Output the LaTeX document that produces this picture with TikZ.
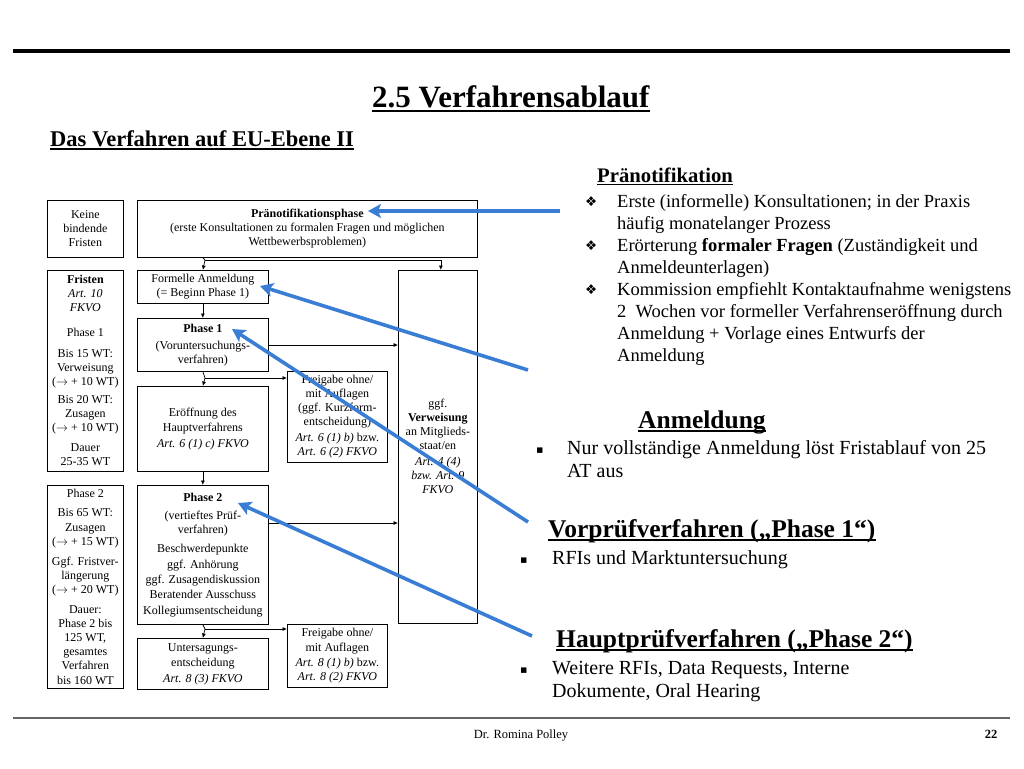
\documentclass[tikz,border=0pt]{standalone}
\usepackage{fontspec}
\setmainfont{Liberation Serif}
\newfontfamily\symfont{DejaVu Sans}
\usetikzlibrary{arrows.meta}
\definecolor{bluearr}{RGB}{58,125,213}
\newcommand{\fsz}{\fontsize{12}{14}\selectfont}
\newcommand{\ar}{$\rightarrow$}
\newcommand{\lines}[1]{\vtop{#1}}
\tikzset{
  fbox/.style={draw, line width=0.7pt, inner sep=1pt, align=center, font=\fsz, anchor=north west},
  farr/.style={line width=0.7pt, -{Latex[length=4.5pt,width=4pt]}},
  fline/.style={line width=0.7pt},
  txt/.style={inner sep=0pt, anchor=base west},
  body/.style={txt, font=\fontsize{18.5}{22}\selectfont},
  bodybig/.style={txt, font=\fontsize{20}{23.5}\selectfont},
  hdsmall/.style={txt, font=\fontsize{20.7}{24}\selectfont\bfseries},
  hdbig/.style={txt, font=\fontsize{25.5}{30}\selectfont\bfseries},
  ul/.style={line width=1.3pt},
  bul/.style={txt, font=\symfont\fontsize{13.5}{13.5}\selectfont},
  sq/.style={txt, font=\symfont\fontsize{11}{11}\selectfont},
  bluea/.style={draw=bluearr, line width=3.6pt, -{Stealth[length=13pt,width=14pt,inset=3pt]}}
}
\begin{document}
\begin{tikzpicture}[x=1pt,y=-1pt]
\useasboundingbox (0,0) rectangle (1024,768);
% header and footer rules
\coordinate (tl) at (13,51); \coordinate (tr) at (1010,51);
\draw[line width=4.5pt] (tl) -- (tr);
\coordinate (bl) at (13,718); \coordinate (br) at (1010,718);
\draw[line width=1.2pt, black!60] (bl) -- (br);

% titles
\node[txt, font=\fontsize{31}{36}\selectfont\bfseries] (title) at (372,107) {2.5 Verfahrensablauf};
\draw[line width=2.6pt] ([yshift=-4pt]title.base west) -- ([yshift=-4pt]title.base east);
\node[txt, font=\fontsize{22.5}{26}\selectfont\bfseries] (sub) at (50,146) {Das Verfahren auf EU-Ebene II};
\draw[line width=1.6pt] ([yshift=-3pt]sub.base west) -- ([yshift=-3pt]sub.base east);

% flowchart boxes
\node[fbox, minimum width=76, minimum height=57] (keine) at (47,200) {Keine\\bindende\\Fristen};
\node[fbox, minimum width=340, minimum height=57] (pran) at (137,200) {\textbf{Pränotifikationsphase}\\(erste Konsultationen zu formalen Fragen und möglichen\\Wettbewerbsproblemen)};
\node[fbox, minimum width=76, minimum height=201] (fristen) at (47,270) {\textbf{Fristen}\\\textit{Art. 10}\\\textit{FKVO}\\[11pt]Phase 1\\[7pt]Bis 15 WT:\\Verweisung\\(\ar{} + 10 WT)\\[4pt]Bis 20 WT:\\Zusagen\\(\ar{} + 10 WT)\\[6pt]Dauer\\25-35 WT};
\node[fbox, minimum width=131, minimum height=33] (form) at (137,270) {Formelle Anmeldung\\(= Beginn Phase 1)};
\node[fbox, minimum width=131, minimum height=53] (ph1) at (137,318) {\textbf{Phase 1}\\[3pt](Voruntersuchungs-\\verfahren)};
\node[fbox, minimum width=79, minimum height=353] (verw) at (398,270) {ggf.\\\textbf{Verweisung}\\an Mitglieds-\\staat/en\\[2pt]\textit{Art. 4 (4)}\\\textit{bzw. Art. 9}\\\textit{FKVO}};
\node[fbox, minimum width=131, minimum height=85, font=\fontsize{12}{15.5}\selectfont] (eroef) at (137,386) {Eröffnung des\\Hauptverfahrens\\\textit{Art. 6 (1) c) FKVO}};
\node[fbox, minimum width=100, minimum height=91] (frei1) at (287,371) {Freigabe ohne/\\mit Auflagen\\(ggf. Kurzform-\\entscheidung)\\[2pt]\textit{Art. 6 (1) b)} bzw.\\\textit{Art. 6 (2) FKVO}};
\node[fbox, minimum width=76, minimum height=203, font=\fontsize{12}{14.2}\selectfont] (fr2) at (47,485) {Phase 2\\[5pt]Bis 65 WT:\\Zusagen\\(\ar{} + 15 WT)\\[6pt]Ggf. Fristver-\\längerung\\(\ar{} + 20 WT)\\[5pt]Dauer:\\Phase 2 bis\\125 WT,\\gesamtes\\Verfahren\\bis 160 WT};
\node[fbox, minimum width=131, minimum height=139, font=\fontsize{12}{15.3}\selectfont] (ph2) at (137,485) {\textbf{Phase 2}\\[3pt](vertieftes Prüf-\\[-1.5pt]verfahren)\\[4pt]Beschwerdepunkte\\ggf. Anhörung\\ggf. Zusagendiskussion\\Beratender Ausschuss\\Kollegiumsentscheidung};
\node[fbox, minimum width=131, minimum height=51, font=\fontsize{12}{15.5}\selectfont] (unters) at (137,638) {Untersagungs-\\entscheidung\\\textit{Art. 8 (3) FKVO}};
\node[fbox, minimum width=100, minimum height=63, font=\fontsize{12}{14.7}\selectfont] (frei2) at (287,624) {Freigabe ohne/\\mit Auflagen\\\textit{Art. 8 (1) b)} bzw.\\\textit{Art. 8 (2) FKVO}};

% flowchart connectors
\coordinate (br1) at (205,260);
\draw[fline] (form.north |- pran.south) -- (br1);
\draw[farr] (br1) -- (form.north);
\draw[farr] (br1) -| ([xshift=3pt]verw.north);
\draw[farr] (form.south) -- (ph1.north);
\draw[farr] ([yshift=-27pt]ph1.north east) -- ([yshift=-27pt]ph1.north east -| verw.west);
\coordinate (br2) at (205,378);
\draw[fline] (ph1.south) -- (br2);
\draw[farr] (br2) -- (eroef.north);
\draw[farr] (br2) -- (br2 -| frei1.west);
\draw[farr] (eroef.south) -- (ph2.north);
\draw[farr] ([yshift=-38pt]ph2.north east) -- ([yshift=-38pt]ph2.north east -| verw.west);
\coordinate (br3) at (205,629);
\draw[fline] (ph2.south) -- (br3);
\draw[farr] (br3) -- (unters.north);
\draw[farr] (br3) -- (br3 -| frei2.west);

% right text: Pränotifikation
\node[hdsmall] (hpra) at (597,182) {Pränotifikation};
\draw[ul] ([yshift=-2.5pt]hpra.base west) -- ([yshift=-2.5pt]hpra.base east);
\node[bul] (b1) at (585,206) {❖};
\node[body] (t1) at (617,207) {\lines{\hbox{Erste (informelle) Konsultationen; in der Praxis}\hbox{häufig monatelanger Prozess}}};
\node[bul] (b2) at (585,250) {❖};
\node[body] (t2) at (617,251) {\lines{\hbox{Erörterung \textbf{formaler Fragen} (Zuständigkeit und}\hbox{Anmeldeunterlagen)}}};
\node[bul] (b3) at (585,294) {❖};
\node[body] (t3) at (617,295) {\lines{\hbox{Kommission empfiehlt Kontaktaufnahme wenigstens}\hbox{2\ \ Wochen vor formeller Verfahrenseröffnung durch}\hbox{Anmeldung + Vorlage eines Entwurfs der}\hbox{Anmeldung}}};

% Anmeldung
\node[hdbig] (hanm) at (638,428) {Anmeldung};
\draw[ul] ([yshift=-3pt]hanm.base west) -- ([yshift=-3pt]hanm.base east);
\node[sq] (s1) at (536,453) {▪};
\node[bodybig] (t4) at (567,454) {\lines{\hbox{Nur vollständige Anmeldung löst Fristablauf von 25}\hbox{AT aus}}};

% Vorprüfverfahren
\node[hdbig] (hvor) at (548,537) {Vorprüfverfahren („Phase 1“)};
\draw[ul] ([yshift=-3pt]hvor.base west) -- ([yshift=-3pt]hvor.base east);
\node[sq] (s2) at (520,563) {▪};
\node[bodybig] (t5) at (552,564) {RFIs und Marktuntersuchung};

% Hauptprüfverfahren
\node[hdbig] (hhaupt) at (556,647) {Hauptprüfverfahren („Phase 2“)};
\draw[ul] ([yshift=-3pt]hhaupt.base west) -- ([yshift=-3pt]hhaupt.base east);
\node[sq] (s3) at (520,673) {▪};
\node[bodybig] (t6) at (552,674) {\lines{\hbox{Weitere RFIs, Data Requests, Interne}\hbox{Dokumente, Oral Hearing}}};

% footer
\node[inner sep=0pt, anchor=base, font=\fontsize{12.5}{14}\selectfont] (foot) at (521,738) {Dr. Romina Polley};
\node[inner sep=0pt, anchor=base, font=\fontsize{12.5}{14}\selectfont\bfseries] (page) at (991,738) {22};

% blue pointer arrows
\coordinate (a1s) at (560,211); \coordinate (a1e) at (368,211);
\coordinate (a2s) at (528,370); \coordinate (a2e) at (260,286);
\coordinate (a3s) at (528,522); \coordinate (a3e) at (232,329);
\coordinate (a4s) at (532,636); \coordinate (a4e) at (238,503);
\draw[bluea] (a1s) -- (a1e);
\draw[bluea] (a2s) -- (a2e);
\draw[bluea] (a3s) -- (a3e);
\draw[bluea] (a4s) -- (a4e);
\end{tikzpicture}
\end{document}
